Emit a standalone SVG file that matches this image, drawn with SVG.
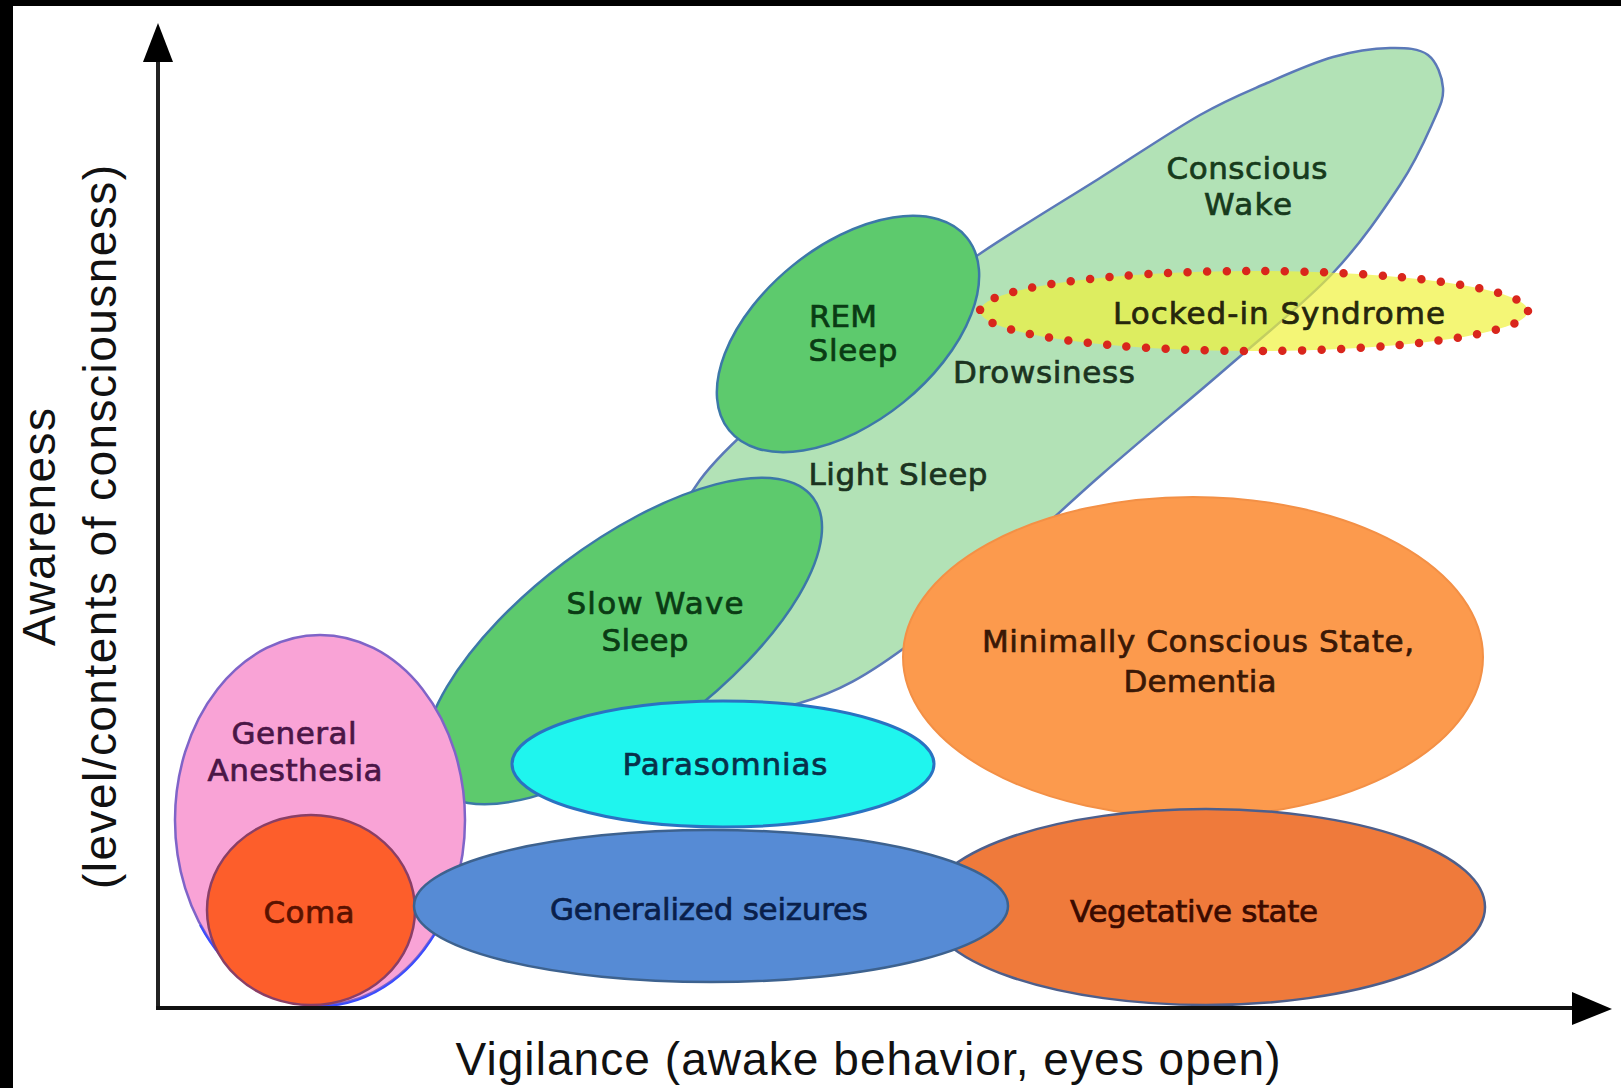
<svg xmlns="http://www.w3.org/2000/svg" width="1621" height="1088" viewBox="0 0 1621 1088">
<defs>
<style>
.lbl{font-family:"DejaVu Sans","Verdana",sans-serif;font-size:31px;text-anchor:middle;stroke-width:0.7px;paint-order:stroke}
.ax{font-family:"Liberation Sans","Arial",sans-serif;font-size:46px;fill:#111;text-anchor:middle}
.green{fill:#5dca6d;stroke:#3c78a8;stroke-width:2.5}
</style>
</defs>
<rect x="0" y="0" width="1621" height="1088" fill="#ffffff"/>
<rect x="0" y="0" width="13" height="1088" fill="#000"/>
<rect x="0" y="0" width="1621" height="6" fill="#000"/>

<g id="conscious-wake">
<path d="M1390,48 C1405.8,47.7 1419.2,48.3 1428,55 C1436.8,61.7 1442.2,76.8 1443,88 C1443.8,99.2 1440.2,105.8 1433,122 C1425.8,138.2 1416.7,159.8 1400,185 C1383.3,210.2 1361.3,243 1333,273 C1304.7,303 1268.8,331.2 1230,365 C1191.2,398.8 1152.5,430.2 1100,476 C1047.5,521.8 965,602.2 915,640 C865,677.8 836.7,692.2 800,703 C763.3,713.8 718.3,722.2 695,705 C671.7,687.8 659.2,637.5 660,600 C660.8,562.5 668.3,522.5 700,480 C731.7,437.5 803.2,382.8 850,345 C896.8,307.2 939.3,280.8 981,253 C1022.7,225.2 1063.5,201 1100,178 C1136.5,155 1172.2,130.8 1200,115 C1227.8,99.2 1244.8,92.7 1267,83 C1289.2,73.3 1312.5,62.8 1333,57 C1353.5,51.2 1374.2,48.3 1390,48 Z" fill="#b2e2b6" stroke="#5b79b8" stroke-width="2.5"/>
<text class="lbl" x="1247" y="179" fill="#173a1c" stroke="#173a1c" textLength="161">Conscious</text>
<text class="lbl" x="1248" y="215" fill="#173a1c" stroke="#173a1c" textLength="88">Wake</text>
<text class="lbl" x="1044" y="383" fill="#1b3320" stroke="#1b3320" textLength="182">Drowsiness</text>
<text class="lbl" x="898" y="485" fill="#1b3320" stroke="#1b3320" textLength="179">Light Sleep</text>
</g>

<g id="locked-in">
<ellipse cx="1254" cy="311" rx="274" ry="40" fill="rgb(240,242,60)" fill-opacity="0.7" stroke="#d9261c" stroke-width="8.5" stroke-dasharray="0 19.5" stroke-linecap="round"/>
<text class="lbl" x="1279" y="324" fill="#26260c" stroke="#26260c" textLength="332">Locked-in Syndrome</text>
</g>

<g id="rem-sleep">
<ellipse class="green" cx="848" cy="334" rx="153" ry="88" transform="rotate(-39 848 334)"/>
<text class="lbl" x="843" y="327" fill="#0a3b14" stroke="#0a3b14" textLength="68">REM</text>
<text class="lbl" x="853" y="361" fill="#0a3b14" stroke="#0a3b14" textLength="89">Sleep</text>
</g>

<g id="slow-wave-sleep">
<ellipse class="green" cx="623" cy="641" rx="238" ry="98" transform="rotate(-37 623 641)"/>
<text class="lbl" x="655" y="614" fill="#0a3b14" stroke="#0a3b14" textLength="177">Slow Wave</text>
<text class="lbl" x="645" y="651" fill="#0a3b14" stroke="#0a3b14" textLength="87">Sleep</text>
</g>

<g id="general-anesthesia">
<ellipse cx="320" cy="820" rx="145" ry="185" fill="#f9a3d6" stroke="#7f64c8" stroke-width="2.5"/>
<path d="M200,925 A145,185 0 0 0 440,925" fill="none" stroke="#3a4cff" stroke-width="2"/>
<text class="lbl" x="294" y="744" fill="#4a1646" stroke="#4a1646" textLength="125">General</text>
<text class="lbl" x="295" y="781" fill="#4a1646" stroke="#4a1646" textLength="175">Anesthesia</text>
</g>

<g id="coma">
<ellipse cx="311" cy="910" rx="104" ry="95" fill="#fd5e2b" stroke="#8a3f66" stroke-width="2.5"/>
<text class="lbl" x="309" y="923" fill="#5a1200" stroke="#5a1200" textLength="91">Coma</text>
</g>

<g id="parasomnias">
<ellipse cx="723" cy="764" rx="211" ry="63" fill="#1ff5ee" stroke="#2a72c2" stroke-width="3"/>
<text class="lbl" x="725" y="775" fill="#08304a" stroke="#08304a" textLength="205">Parasomnias</text>
</g>

<g id="minimally-conscious">
<ellipse cx="1193" cy="657" rx="290" ry="160" fill="#fc9a4d" stroke="#f39046" stroke-width="2"/>
<text class="lbl" x="1198" y="652" fill="#3a1806" stroke="#3a1806" textLength="432">Minimally Conscious State,</text>
<text class="lbl" x="1200" y="692" fill="#3a1806" stroke="#3a1806" textLength="153">Dementia</text>
</g>

<g id="vegetative-state">
<ellipse cx="1206" cy="907" rx="279" ry="98" fill="#ef7a3b" stroke="#4d5f8c" stroke-width="2.5"/>
<text class="lbl" x="1194" y="922" fill="#3a0a00" stroke="#3a0a00" textLength="248">Vegetative state</text>
</g>

<g id="generalized-seizures">
<ellipse cx="711" cy="906" rx="297" ry="76" fill="#568bd5" stroke="#3d628f" stroke-width="2.5"/>
<text class="lbl" x="709" y="920" fill="#0a1f4a" stroke="#0a1f4a" textLength="318">Generalized seizures</text>
</g>

<g id="axes">
<line x1="158" y1="60" x2="158" y2="1009" stroke="#222" stroke-width="4"/>
<line x1="156" y1="1008" x2="1575" y2="1008" stroke="#111" stroke-width="4"/>
<polygon points="158,23 143,62 173,62" fill="#000"/>
<polygon points="1612,1009 1572,992 1572,1025" fill="#000"/>
<text class="ax" x="868" y="1075" textLength="825">Vigilance (awake behavior, eyes open)</text>
<text class="ax" transform="translate(55,527) rotate(-90)" x="0" y="0" textLength="238">Awareness</text>
<text class="ax" transform="translate(116,527) rotate(-90)" x="0" y="0" textLength="724">(level/contents of consciousness)</text>
</g>
</svg>
